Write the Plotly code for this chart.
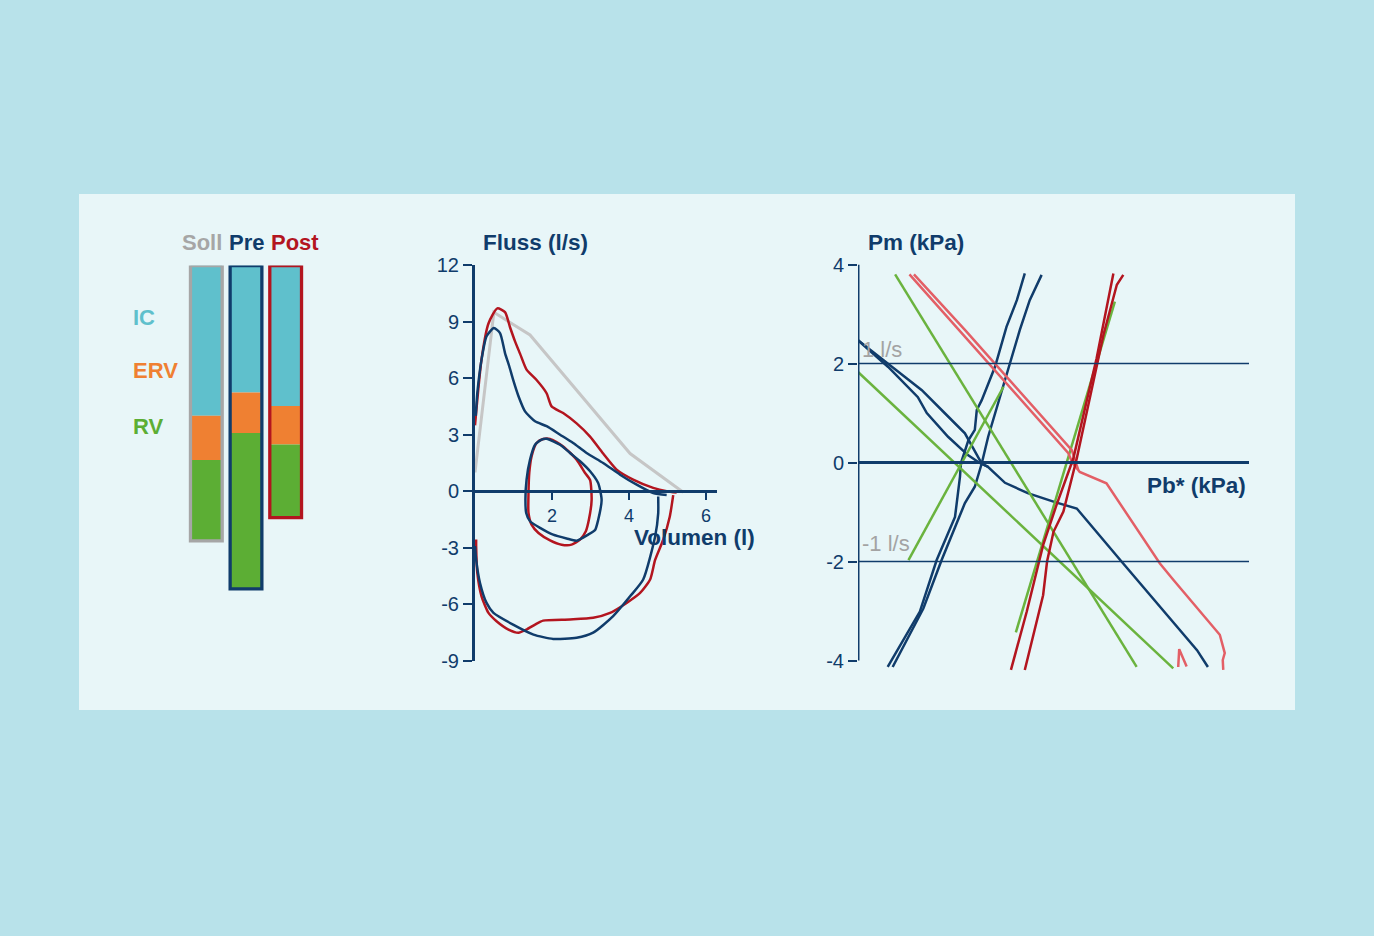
import plotly.graph_objects as go

W, H = 1374, 936

NAVY = "#103c6b"
DARK_RED = "#b3151f"
PINK = "#e35f66"
GREEN = "#6ab33e"
GRAY = "#a6a6a6"
IC_COL = "#5fc0cc"
ERV_COL = "#ef8032"
RV_COL = "#5cae34"
FONT = "Liberation Sans, Arial, sans-serif"

# lung volumes (l), stacked from TLC downwards
bar_names = ["Soll", "Pre", "Post"]
bar_colors = [GRAY, NAVY, DARK_RED]
ic = [3.9, 3.3, 3.65]
erv = [1.15, 1.05, 1.0]
rv = [2.1, 4.05, 1.9]

# flow-volume loops: volume (l), flow (l/s)
soll_vol = [0.0, 0.49, 1.43, 4.03, 5.41]
soll_flow = [1.0, 9.49, 8.29, 2.0, -0.05]

post_exp_vol = [0.0, 0.17, 0.35, 0.58, 0.78, 0.91, 1.04, 1.17, 1.34, 1.6, 1.86,
                1.99, 2.29, 2.64, 2.99, 3.33, 3.68, 4.11, 4.63, 4.98, 5.24]
post_exp_flow = [3.5, 7.0, 8.9, 9.7, 9.5, 8.7, 7.95, 7.3, 6.45, 5.9, 5.2,
                 4.5, 4.15, 3.6, 2.9, 2.0, 1.15, 0.62, 0.18, 0.0, -0.07]
post_insp_vol = [5.15, 5.06, 4.89, 4.68, 4.55, 4.29, 3.94, 3.51, 3.07, 2.47, 1.77,
                 1.56, 1.34, 1.13, 0.87, 0.56, 0.35, 0.17, 0.06, 0.03, 0.03]
post_insp_flow = [-0.2, -1.35, -2.57, -3.64, -4.68, -5.39, -5.92, -6.45, -6.71, -6.8, -6.86,
                  -7.07, -7.33, -7.5, -7.33, -6.89, -6.45, -5.57, -4.33, -2.92, -2.56]
post_tidal_vol = [1.95, 2.29, 2.64, 2.86, 2.99, 3.03, 2.96, 2.88, 2.73, 2.51, 2.25,
                  1.95, 1.65, 1.47, 1.39, 1.39, 1.41, 1.47, 1.6, 1.77, 1.95]
post_tidal_flow = [2.78, 2.38, 1.68, 0.97, 0.6, -0.46, -1.5, -2.12, -2.56, -2.83, -2.83,
                   -2.6, -2.21, -1.77, -1.15, -0.09, 0.97, 1.85, 2.56, 2.77, 2.78]

pre_exp_vol = [0.02, 0.06, 0.17, 0.3, 0.49, 0.65, 0.78, 0.89, 0.99, 1.13, 1.3,
               1.56, 1.86, 2.21, 2.55, 2.9, 3.33, 3.77, 4.2, 4.63, 4.98]
pre_exp_flow = [4.0, 5.2, 6.98, 8.22, 8.66, 8.39, 7.33, 6.63, 5.92, 5.04, 4.24,
                3.71, 3.45, 3.0, 2.56, 2.03, 1.5, 0.88, 0.35, -0.09, -0.2]
pre_insp_vol = [4.76, 4.76, 4.68, 4.37, 4.03, 3.59, 3.07, 2.64, 2.03, 1.52, 0.99,
                0.48, 0.3, 0.13, 0.03, 0.0]
pre_insp_flow = [-0.28, -1.17, -2.4, -4.68, -5.57, -6.62, -7.5, -7.77, -7.83, -7.6, -7.07,
                 -6.45, -5.92, -4.86, -3.62, -2.9]
pre_tidal_vol = [1.86, 2.21, 2.47, 2.73, 2.99, 3.2, 3.25, 3.29, 3.2, 3.12, 2.94, 2.64,
                 2.38, 2.03, 1.69, 1.43, 1.33, 1.31, 1.34, 1.43, 1.56, 1.73, 1.86]
pre_tidal_flow = [2.78, 2.47, 2.03, 1.59, 1.06, 0.44, 0.07, -0.46, -1.52, -2.05, -2.3, -2.62,
                  -2.5, -2.3, -1.94, -1.59, -1.15, -0.44, 0.62, 1.68, 2.47, 2.74, 2.78]

flow_ticks = [-9, -6, -3, 0, 3, 6, 9, 12]
vol_ticks = [2, 4, 6]

# resistance loops: Pb* (kPa), Pm (kPa)
pre_desc_pb = [0.0, 0.61, 1.21, 1.39, 1.82, 2.22, 2.46, 2.63, 2.97, 3.43, 3.98, 4.42, 5.35, 6.04, 6.85, 7.07]
pre_desc_pm = [2.47, 1.93, 1.32, 1.0, 0.52, 0.15, -0.01, -0.09, -0.41, -0.62, -0.8, -0.93, -2.03, -2.84, -3.79, -4.13]
pre_desc2_pb = [0.0, 0.88, 1.29, 1.76, 2.16, 2.5, 2.63]
pre_desc2_pm = [2.47, 1.77, 1.46, 0.99, 0.59, -0.02, -0.09]
pre_asc1_pb = [0.6, 1.25, 1.59, 1.96, 2.06, 2.08, 2.23, 2.36, 2.4, 2.5, 2.77, 3.0, 3.21, 3.37]
pre_asc1_pm = [-4.13, -3.01, -1.97, -1.1, -0.29, -0.01, 0.45, 0.66, 1.06, 1.26, 1.94, 2.74, 3.28, 3.82]
pre_asc2_pb = [0.7, 1.32, 1.69, 2.16, 2.36, 2.5, 2.63, 2.83, 3.04, 3.27, 3.47, 3.71]
pre_asc2_pm = [-4.13, -2.95, -1.97, -0.82, -0.49, -0.02, 0.52, 1.2, 1.87, 2.68, 3.28, 3.79]

green_lines = [
    ([0.75, 5.63], [3.8, -4.13]),
    ([0.0, 6.37], [1.83, -4.16]),
    ([1.02, 2.94], [-1.97, 1.53]),
    ([3.19, 5.19], [-3.43, 3.25]),
]

post_desc_pb = [1.04, 2.03, 4.25, 4.32, 4.48, 5.02, 5.56, 6.1, 6.37, 6.77, 7.31, 7.41, 7.37, 7.38]
post_desc_pm = [3.8, 2.68, 0.19, 0.02, -0.19, -0.42, -1.23, -2.04, -2.37, -2.84, -3.48, -3.85, -3.99, -4.19]
post_desc2_pb = [1.13, 2.16, 4.32, 4.45]
post_desc2_pm = [3.8, 2.68, 0.25, -0.15]
post_tick_pb = [6.47, 6.49, 6.64]
post_tick_pm = [-4.13, -3.77, -4.12]
post_asc1_pb = [3.09, 3.41, 3.74, 4.01, 4.35, 4.82, 5.16]
post_asc1_pm = [-4.19, -3.01, -1.67, -0.86, 0.08, 2.1, 3.82]
post_asc2_pb = [3.37, 3.74, 3.82, 3.95, 4.15, 4.42, 4.96, 5.23, 5.36]
post_asc2_pm = [-4.19, -2.68, -2.0, -1.4, -0.99, 0.08, 2.58, 3.59, 3.79]

pm_ticks = [-4, -2, 0, 2, 4]


def fx(px):
    return px / W


def fy(py):
    return 1 - py / H


def lab(v):
    return str(v).replace("\u2212", "-")


fig = go.Figure()

# --- panel 1: stacked volume bars ---
totals = [a + b + c for a, b, c in zip(ic, erv, rv)]
base_erv = ic
base_rv = [a + b for a, b in zip(ic, erv)]
for vals, base, col in [(ic, [0, 0, 0], IC_COL), (erv, base_erv, ERV_COL), (rv, base_rv, RV_COL)]:
    fig.add_trace(go.Bar(x=bar_names, y=vals, base=base, width=0.8,
                         marker=dict(color=col, line=dict(width=0)),
                         xaxis="x", yaxis="y", hoverinfo="skip"))
fig.add_trace(go.Bar(x=bar_names, y=totals, base=[0, 0, 0], width=0.8,
                     marker=dict(color="rgba(0,0,0,0)", line=dict(color=bar_colors, width=3.3)),
                     xaxis="x", yaxis="y", hoverinfo="skip"))

# --- panel 2: flow-volume ---
fig.add_trace(go.Scatter(x=soll_vol, y=soll_flow, mode="lines",
                         line=dict(color="#c6c6c6", width=3), xaxis="x2", yaxis="y2"))
for vx, fy_, col in [(post_exp_vol, post_exp_flow, DARK_RED), (post_insp_vol, post_insp_flow, DARK_RED),
                     (post_tidal_vol, post_tidal_flow, DARK_RED),
                     (pre_exp_vol, pre_exp_flow, NAVY), (pre_insp_vol, pre_insp_flow, NAVY),
                     (pre_tidal_vol, pre_tidal_flow, NAVY)]:
    fig.add_trace(go.Scatter(x=vx, y=fy_, mode="lines",
                             line=dict(color=col, width=2.5, shape="spline", smoothing=0.6),
                             xaxis="x2", yaxis="y2"))

# --- panel 3: resistance loops ---
for px_, py_ in [(pre_desc_pb, pre_desc_pm), (pre_desc2_pb, pre_desc2_pm),
                 (pre_asc1_pb, pre_asc1_pm), (pre_asc2_pb, pre_asc2_pm)]:
    fig.add_trace(go.Scatter(x=px_, y=py_, mode="lines", line=dict(color=NAVY, width=2.5),
                             xaxis="x3", yaxis="y3"))
for gx, gy in green_lines:
    fig.add_trace(go.Scatter(x=gx, y=gy, mode="lines", line=dict(color=GREEN, width=2.5),
                             xaxis="x3", yaxis="y3"))
for px_, py_ in [(post_desc_pb, post_desc_pm), (post_desc2_pb, post_desc2_pm), (post_tick_pb, post_tick_pm)]:
    fig.add_trace(go.Scatter(x=px_, y=py_, mode="lines", line=dict(color=PINK, width=2.5),
                             xaxis="x3", yaxis="y3"))
for px_, py_ in [(post_asc1_pb, post_asc1_pm), (post_asc2_pb, post_asc2_pm)]:
    fig.add_trace(go.Scatter(x=px_, y=py_, mode="lines", line=dict(color=DARK_RED, width=2.5),
                             xaxis="x3", yaxis="y3"))

tickfont = dict(family=FONT, size=20, color=NAVY)

fig.update_layout(
    width=W, height=H,
    margin=dict(l=0, r=0, t=0, b=0, autoexpand=False),
    paper_bgcolor="#b8e2ea",
    plot_bgcolor="rgba(0,0,0,0)",
    showlegend=False,
    barmode="overlay",
    font=dict(family=FONT, color=NAVY),
    xaxis=dict(domain=[fx(186.5), fx(305.5)], range=[-0.5, 2.5], visible=False, anchor="y",
               automargin=False),
    yaxis=dict(domain=[fy(612), fy(265.5)], range=[9, 0], visible=False, anchor="x",
               automargin=False),
    xaxis2=dict(domain=[fx(475), fx(716.7)], range=[0, 6.28], anchor="free", position=fy(491.3),
                tickvals=vol_ticks, ticktext=[lab(v) for v in vol_ticks], ticks="outside",
                ticklen=7, tickwidth=2, tickcolor=NAVY, showline=True, linewidth=3, linecolor=NAVY,
                showgrid=False, zeroline=False, automargin=False,
                tickfont=dict(family=FONT, size=18, color=NAVY)),
    yaxis2=dict(domain=[fy(661), fy(265)], range=[-9, 12], anchor="x2",
                tickvals=flow_ticks, ticktext=[lab(v) for v in flow_ticks], ticks="outside",
                ticklen=9, tickwidth=2, tickcolor=NAVY, showline=True, linewidth=3, linecolor=NAVY,
                showgrid=False, zeroline=False, automargin=False, tickfont=tickfont),
    xaxis3=dict(domain=[fx(858), fx(1249)], range=[0, 7.9], visible=False, anchor="y3",
                automargin=False),
    yaxis3=dict(domain=[fy(672.9), fy(264.5)], range=[-4.25, 4], anchor="x3",
                tickvals=pm_ticks, ticktext=[lab(v) for v in pm_ticks], ticks="outside",
                ticklen=9, tickwidth=2, tickcolor=NAVY, showline=False,
                showgrid=False, zeroline=False, automargin=False, tickfont=tickfont),
)

shapes = [
    dict(type="rect", xref="paper", yref="paper", x0=fx(79), x1=fx(1295), y0=fy(710), y1=fy(194),
         fillcolor="#e8f6f8", line=dict(width=0), layer="below"),
    dict(type="line", xref="x3", yref="y3", x0=0, x1=0, y0=-4, y1=4, line=dict(color=NAVY, width=3)),
    dict(type="line", xref="x3", yref="y3", x0=0, x1=7.9, y0=0, y1=0, line=dict(color=NAVY, width=3)),
    dict(type="line", xref="x3", yref="y3", x0=0, x1=7.9, y0=2, y1=2, line=dict(color=NAVY, width=1.3)),
    dict(type="line", xref="x3", yref="y3", x0=0, x1=7.9, y0=-2, y1=-2, line=dict(color=NAVY, width=1.3)),
]
fig.update_layout(shapes=shapes)


def note(text, x, y, color=NAVY, size=22.5, bold=True, xanchor="left"):
    t = "<b>%s</b>" % text if bold else text
    fig.add_annotation(text=t, x=fx(x), y=fy(y), xref="paper", yref="paper", showarrow=False,
                       xanchor=xanchor, yanchor="middle",
                       font=dict(family=FONT, size=size, color=color))


note("Soll", 180, 243, GRAY, 22)
note("Pre", 227, 243, NAVY, 22)
note("Post", 269, 243, DARK_RED, 22)
note("IC", 131, 317, IC_COL, 22)
note("ERV", 131, 371, ERV_COL, 22)
note("RV", 131, 427, RV_COL, 22)
note("Fluss (l/s)", 481, 243)
note("Volumen (l)", 757, 537, xanchor="right")
note("Pm (kPa)", 866, 243)
note("Pb* (kPa)", 1248, 485, xanchor="right")
note("1 l/s", 860, 349, "#a3a3a3", 22, False)
note("-1 l/s", 860, 543, "#a3a3a3", 22, False)

fig.write_html("out.html", config={"displayModeBar": False},
               post_script="document.body.style.margin='0';document.body.style.overflow='hidden';")
